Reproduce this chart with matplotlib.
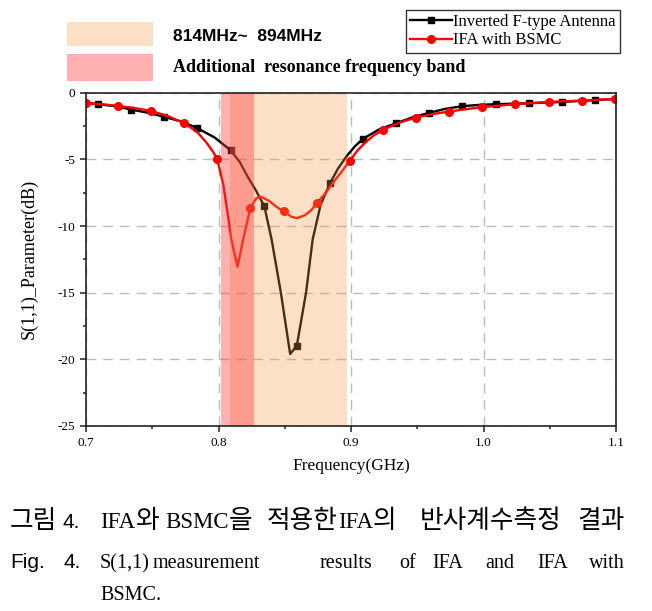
import numpy as np
import matplotlib
matplotlib.use('Agg')
import matplotlib.pyplot as plt
from matplotlib.patches import Rectangle
from matplotlib.lines import Line2D

plt.rcParams['axes.unicode_minus'] = False

# measured S11 of the plain inverted-F antenna (GHz, dB)
ifa_freq = [0.700, 0.709, 0.722, 0.734, 0.747, 0.759, 0.772, 0.784, 0.797, 0.809,
            0.816, 0.822, 0.828, 0.8345, 0.840, 0.847, 0.854, 0.859, 0.866, 0.871,
            0.877, 0.884, 0.890, 0.897, 0.903, 0.909, 0.921, 0.934, 0.946, 0.959,
            0.971, 0.984, 0.997, 1.009, 1.034, 1.059, 1.084, 1.100]
ifa_s11 = [-0.75, -0.85, -1.0, -1.25, -1.5, -1.8, -2.15, -2.65, -3.35, -4.3,
           -5.2, -6.3, -7.3, -8.5, -11.0, -15.0, -19.6, -19.0, -15.0, -11.0,
           -8.4, -6.8, -5.7, -4.7, -4.0, -3.45, -2.75, -2.28, -1.85, -1.5,
           -1.2, -1.0, -0.9, -0.85, -0.78, -0.68, -0.55, -0.45]
ifa_marks = [1, 3, 5, 7, 9, 13, 17, 21, 25, 27, 29, 31, 33, 34, 35, 36]

# IFA with BSMC
bsmc_freq = [0.700, 0.712, 0.724, 0.737, 0.749, 0.762, 0.774, 0.784, 0.791, 0.796,
             0.799, 0.8036, 0.8074, 0.8096, 0.8143, 0.819, 0.824, 0.8285, 0.832, 0.838,
             0.843, 0.849, 0.855, 0.859, 0.865, 0.870, 0.874, 0.881, 0.887, 0.893,
             0.899, 0.905, 0.911, 0.917, 0.924, 0.936, 0.949, 0.961, 0.974, 0.987,
             0.999, 1.024, 1.049, 1.074, 1.099]
bsmc_s11 = [-0.77, -0.85, -0.98, -1.15, -1.35, -1.75, -2.28, -2.95, -3.75, -4.45,
            -4.98, -6.9, -9.4, -11.0, -13.05, -10.8, -8.66, -7.9, -7.8, -8.1,
            -8.5, -8.9, -9.3, -9.4, -9.2, -8.8, -8.28, -7.5, -6.66, -5.9,
            -5.1, -4.3, -3.7, -3.2, -2.78, -2.25, -1.85, -1.6, -1.4, -1.22,
            -1.07, -0.85, -0.68, -0.58, -0.45]
bsmc_marks = [0, 2, 4, 6, 10, 16, 21, 26, 30, 34, 36, 38, 40, 41, 42, 43, 44]

main_band = (0.8085, 0.897)      # 814MHz~894MHz
extra_band = (0.802, 0.827)      # additional resonance band

x_ticks = [0.7, 0.8, 0.9, 1.0, 1.1]
y_ticks = [0, -5, -10, -15, -20, -25]

peach = '#F79646'
pink = '#FF3333'

fig = plt.figure(figsize=(6.52, 6.11), dpi=100)
ax = fig.add_axes([0.132, 0.303, 0.813, 0.545])

ax.plot(ifa_freq, ifa_s11, color='black', lw=1.7, marker='s', ms=5,
        markevery=ifa_marks, zorder=3)
ax.plot(bsmc_freq, bsmc_s11, color='#FF0000', lw=1.7, marker='o', ms=5.5,
        markevery=bsmc_marks, zorder=4)

# bands sit on top of the curves (semi transparent)
ax.axvspan(main_band[0], main_band[1], color=peach, alpha=0.3, lw=0, zorder=5)
ax.axvspan(extra_band[0], extra_band[1], color=pink, alpha=0.38, lw=0, zorder=6)

ax.set_xlim(0.7, 1.1)
ax.set_ylim(-25, 0)
ax.set_xticks(x_ticks)
ax.set_xticklabels(['%.1f' % v for v in x_ticks])
ax.set_xticks([0.75, 0.85, 0.95, 1.05], minor=True)
ax.set_yticks(y_ticks)
ax.set_yticklabels([str(v) for v in y_ticks])
ax.set_yticks([-2.5, -7.5, -12.5, -17.5, -22.5], minor=True)
ax.grid(True, which='major', color='#BBBBBB', ls=(0, (7, 5)), lw=1, zorder=2)
ax.set_axisbelow(False)

for s in ax.spines.values():
    s.set_linewidth(1.2)
    s.set_color('#222222')
    s.set_zorder(8)
ax.tick_params(which='both', direction='out', top=False, right=False, color='#222222', width=1.1)
ax.tick_params(which='major', length=4.5, labelsize=9.5)
ax.tick_params(which='minor', length=2.5)
for lab in ax.get_xticklabels() + ax.get_yticklabels():
    lab.set_family('Liberation Serif')

ax.set_xlabel('Frequency(GHz)', family='Liberation Serif', fontsize=12.5)
ax.set_ylabel('S(1,1)_Parameter(dB)', family='Liberation Serif', fontsize=13)
ax.xaxis.set_label_coords(0.5, -0.095)
ax.yaxis.set_label_coords(-0.092, 0.5)

# legend for the curves
handles = [Line2D([], [], color='black', lw=1.7, marker='s', ms=5),
           Line2D([], [], color='#FF0000', lw=1.7, marker='o', ms=5.5)]
leg = fig.legend(handles, ['Inverted F-type Antenna', 'IFA with BSMC'],
                 loc='upper right', bbox_to_anchor=(0.951, 0.984),
                 prop={'family': 'Liberation Serif', 'size': 12},
                 fancybox=False, edgecolor='#333333', framealpha=1,
                 borderpad=0.25, labelspacing=0.15, handlelength=2.5,
                 handletextpad=0.1, borderaxespad=0)
leg.get_frame().set_linewidth(1.0)

# band key at the top
fig.add_artist(Rectangle((0.103, 0.9247), 0.132, 0.0393, transform=fig.transFigure,
                         facecolor=peach, alpha=0.3, lw=0))
fig.add_artist(Rectangle((0.103, 0.8674), 0.132, 0.0442, transform=fig.transFigure,
                         facecolor=pink, alpha=0.38, lw=0))
fig.text(0.265, 0.940, '814MHz~  894MHz', family='Liberation Sans', weight='bold',
         fontsize=12.5, va='center')
fig.text(0.265, 0.890, 'Additional  resonance frequency band', family='Liberation Serif',
         weight='bold', fontsize=13, va='center')

# caption, word by word (justified in the original); pieces of a word are
# laid one after another starting at the word's left edge
K, L, S = 'Noto Sans CJK KR', 'Liberation Serif', 'Liberation Sans'
line1 = [(10, [('그림', K)]), (62, [('4.', S)]), (100, [('IFA', L), ('와', K)]),
         (165, [('BSMC', L), ('을', K)]), (267, [('적용한', K), ('IFA', L), ('의', K)]),
         (420, [('반사계수측정', K)]), (577, [('결과', K)])]
line2 = [(10, [('Fig.', S)]), (63, [('4.', S)]), (100, [('S(1,1)', L)]),
         (153, [('measurement', L)]), (320, [('results', L)]), (399, [('of', L)]),
         (432, [('IFA', L)]), (485, [('and', L)]), (537, [('IFA', L)]), (589, [('with', L)])]
line3 = [(100, [('BSMC.', L)])]
sizes = [{K: 18.5, L: 16.5, S: 15}, {K: 18.5, L: 14.5, S: 15}, {K: 18.5, L: 14.5, S: 15}]

renderer = fig.canvas.get_renderer()
for n, (base_y, words) in enumerate([(528, line1), (568, line2), (600, line3)]):
    for px, pieces in words:
        x = px
        for word, fam in pieces:
            t = fig.text(x / 652, 1 - base_y / 611, word, family=fam,
                         fontsize=sizes[n][fam], va='baseline')
            x += t.get_window_extent(renderer).width

fig.savefig('out.png', dpi=100)
